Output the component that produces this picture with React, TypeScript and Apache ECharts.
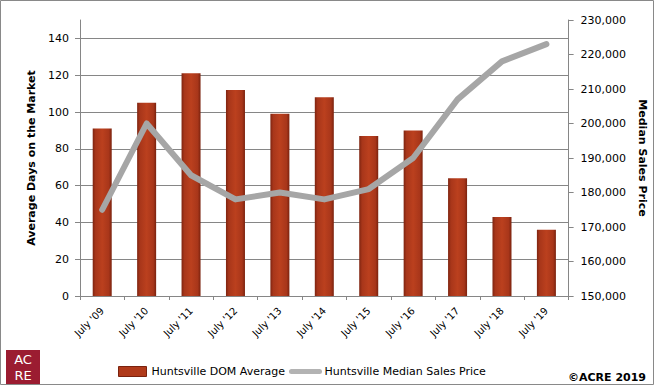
import React, { useEffect, useRef } from "react";
import * as echarts from "echarts";

const categories = ["July '09", "July '10", "July '11", "July '12", "July '13", "July '14", "July '15", "July '16", "July '17", "July '18", "July '19"];
const domAverage = [91, 105, 121, 112, 99, 108, 87, 90, 64, 43, 36];
const medianPrice = [175000, 200000, 185000, 178000, 180000, 178000, 181000, 190000, 207000, 218000, 223000];

const FONT = "DejaVu Sans";

export default function App() {
  const ref = useRef<HTMLDivElement>(null);
  useEffect(() => {
    if (!ref.current) return;
    const chart = echarts.init(ref.current, null, { renderer: "svg" });
    const barGrad = new echarts.graphic.LinearGradient(0, 0, 1, 0, [
      { offset: 0, color: "#7e2410" },
      { offset: 0.15, color: "#a8361a" },
      { offset: 0.5, color: "#bb401e" },
      { offset: 0.85, color: "#a8361a" },
      { offset: 1, color: "#7a220e" },
    ]);
    chart.setOption({
      animation: false,
      backgroundColor: "#ffffff",
      textStyle: { fontFamily: FONT },
      grid: { left: 80, right: 79, top: 20, bottom: 91, containLabel: false },
      legend: {
        left: 118,
        top: 366,
        padding: 0,
        itemGap: 4,
        itemWidth: 28,
        itemHeight: 10,
        textStyle: { fontSize: 11, color: "#000", fontFamily: FONT },
        data: [
          { name: "Huntsville DOM Average", icon: "rect", itemStyle: { color: "#b03a1a", borderColor: "#7a220e", borderWidth: 1 } },
          {
            name: "Huntsville Median Sales Price",
            itemStyle: { opacity: 0 },
            lineStyle: { width: 5, cap: "round", color: "#b3b3b3" },
          },
        ],
      },
      xAxis: {
        type: "category",
        data: categories,
        boundaryGap: true,
        axisLine: { lineStyle: { color: "#868686" } },
        axisTick: { show: true, length: 4, lineStyle: { color: "#868686" } },
        axisLabel: {
          rotate: 45,
          margin: 13,
          fontSize: 10,
          color: "#000",
          fontFamily: FONT,
          interval: 0,
        },
      },
      yAxis: [
        {
          type: "value",
          min: 0,
          max: 150,
          interval: 20,
          name: "Average Days on the Market",
          nameLocation: "middle",
          nameRotate: 90,
          nameGap: 43,
          nameTextStyle: { fontWeight: "bold", fontSize: 11, color: "#000", fontFamily: FONT },
          axisLine: { show: true, lineStyle: { color: "#868686" } },
          axisTick: { show: true, length: 5, lineStyle: { color: "#868686" } },
          axisLabel: { showMaxLabel: false, fontSize: 11, color: "#000", margin: 11, fontFamily: FONT },
          splitLine: { show: true, showMaxLine: false, lineStyle: { color: "#868686", width: 1 } },
        },
        {
          type: "value",
          min: 150000,
          max: 230000,
          interval: 10000,
          position: "right",
          name: "Median Sales Price",
          nameLocation: "middle",
          nameRotate: -90,
          nameGap: 68,
          nameTextStyle: { fontWeight: "bold", fontSize: 11, color: "#000", fontFamily: FONT },
          axisLine: { show: true, lineStyle: { color: "#868686" } },
          axisTick: { show: true, length: 5, lineStyle: { color: "#868686" } },
          axisLabel: {
            fontSize: 11,
            color: "#000",
            margin: 12,
            fontFamily: FONT,
            formatter: (v: number) => v.toLocaleString("en-US"),
          },
          splitLine: { show: false },
        },
      ],
      series: [
        {
          name: "Huntsville DOM Average",
          type: "bar",
          data: domAverage,
          barWidth: 19,
          itemStyle: { color: barGrad },
          z: 2,
        },
        {
          name: "Huntsville Median Sales Price",
          type: "line",
          yAxisIndex: 1,
          data: medianPrice,
          symbol: "none",
          showSymbol: false,
          lineStyle: { color: "#a6a6a6", width: 6, cap: "round", join: "round" },
          itemStyle: { color: "#a6a6a6" },
          z: 3,
        },
      ],
      graphic: [
        {
          type: "rect",
          shape: { x: 0.5, y: 0.5, width: 653, height: 384 },
          style: { fill: "none", stroke: "#898989", lineWidth: 1 },
          silent: true,
          z: -1,
        },
        {
          type: "rect",
          shape: { x: 6, y: 350, width: 34, height: 34 },
          style: { fill: "#9b1c31" },
        },
        {
          type: "text",
          x: 23,
          y: 367,
          style: {
            text: "AC\nRE",
            fill: "#fff",
            font: `13px ${FONT}`,
            lineHeight: 16,
            align: "center",
            verticalAlign: "middle",
          },
        },
        {
          type: "text",
          x: 646,
          y: 377,
          style: { text: "©ACRE 2019", fill: "#000", font: `bold 11px ${FONT}`, align: "right", verticalAlign: "middle" },
        },
      ],
    });
    return () => chart.dispose();
  }, []);
  return <div ref={ref} style={{ position: "fixed", left: 0, top: 0, width: 656, height: 387 }} />;
}
